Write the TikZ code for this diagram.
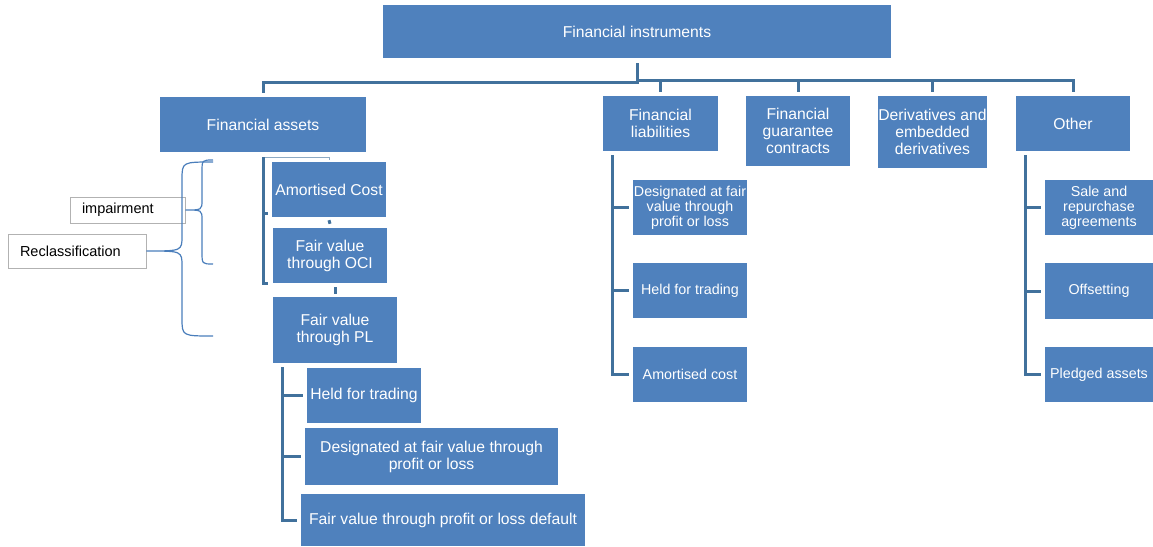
\documentclass[tikz,border=0pt]{standalone}
\usepackage{fontspec}
\setmainfont{Liberation Sans}
\usetikzlibrary{calc}
\definecolor{boxblue}{HTML}{4F81BD}
\definecolor{lineblue}{HTML}{41719C}
\definecolor{bracecol}{HTML}{4A7EBB}
\begin{document}
\begin{tikzpicture}[x=1pt,y=-1pt,
  box/.style={fill=boxblue, text=white, align=center, inner sep=0pt, font=\fontsize{15.7}{17}\selectfont},
  sbox/.style={box, font=\fontsize{14.3}{15.2}\selectfont},
  conn/.style={draw=lineblue, line width=3pt},
  thinconn/.style={draw=lineblue!60, line width=1pt},
  brace/.style={draw=bracecol, line width=1.2pt},
  lbl/.style={draw=gray!60, fill=white, line width=0.8pt, font=\fontsize{14.5}{16}\selectfont, align=left, inner xsep=12pt, inner ysep=0pt}]
\useasboundingbox (0,0) rectangle (1153,546);

% top level
\node[box, minimum width=508, minimum height=53] (top) at (637,31.5) {Financial instruments};
\node[box, minimum width=206, minimum height=55] (fa) at (263,124.5) {Financial assets};
\node[box, minimum width=115, minimum height=55] (fl) at (660.5,123.5) {Financial\\liabilities};
\node[box, minimum width=104, minimum height=70] (fg) at (798,131) {Financial\\guarantee\\contracts};
\node[box, minimum width=109, minimum height=72] (der) at (932.5,132) {Derivatives and\\embedded\\derivatives};
\node[box, minimum width=114, minimum height=55] (oth) at (1073,123.5) {Other};

% assets branch
\node[box, minimum width=114, minimum height=55] (ac) at (329,189.5) {Amortised Cost};
\node[box, minimum width=114, minimum height=55] (oci) at (330,255.5) {Fair value\\through OCI};
\node[box, minimum width=124, minimum height=66] (pl) at (335,330) {Fair value\\through PL};
\node[box, minimum width=114, minimum height=55] (hft) at (364,395.5) {Held for trading};
\node[box, minimum width=253, minimum height=57] (des) at (431.5,456.5) {Designated at fair value through\\profit or loss};
\node[box, minimum width=284, minimum height=52] (def) at (443,520) {Fair value through profit or loss default};

% liabilities branch
\node[sbox, minimum width=114, minimum height=55] (l1) at (690,207.5) {Designated at fair\\value through\\profit or loss};
\node[sbox, minimum width=114, minimum height=55] (l2) at (690,290.5) {Held for trading};
\node[sbox, minimum width=114, minimum height=55] (l3) at (690,374.5) {Amortised cost};

% other branch
\node[sbox, minimum width=108, minimum height=55] (o1) at (1099,207.5) {Sale and\\repurchase\\agreements};
\node[sbox, minimum width=108, minimum height=56] (o2) at (1099,291) {Offsetting};
\node[sbox, minimum width=108, minimum height=55] (o3) at (1099,374.5) {Pledged assets};

% labels
\node[lbl, text width=91, minimum height=26] (imp) at (127.5,210) {impairment};
\node[lbl, text width=114, minimum height=34] (rec) at (77,251) {Reclassification};

% top connectors
\coordinate (busL) at ([yshift=-24pt]top.south);
\coordinate (busR) at ([yshift=-22pt]top.south);
\draw[conn] ([yshift=-5pt]top.south) -- (busL) -| ([yshift=4pt]fa.north);
\draw[conn] (busR) -| ([yshift=4pt]oth.north);
\foreach \n in {fl,fg,der} \draw[conn] (busR -| \n.north) -- ([yshift=4pt]\n.north);

% liabilities spine
\coordinate (lsp) at ([xshift=10pt,yshift=-4pt]fl.south west);
\draw[conn] (lsp) |- ([xshift=-4pt]l3.west);
\foreach \n in {l1,l2} \draw[conn] (lsp |- \n.west) -- ([xshift=-4pt]\n.west);

% other spine
\coordinate (osp) at ([xshift=10pt,yshift=-4pt]oth.south west);
\draw[conn] (osp) |- ([xshift=-4pt]o3.west);
\foreach \n in {o1,o2} \draw[conn] (osp |- \n.west) -- ([xshift=-4pt]\n.west);

% PL spine
\coordinate (psp) at ([xshift=10pt,yshift=-4pt]pl.south west);
\draw[conn] (psp) |- ([xshift=-4pt]def.west);
\foreach \n in {hft,des} \draw[conn] (psp |- \n.west) -- ([xshift=-4pt]\n.west);

% assets bracket
\coordinate (asp) at ([yshift=-5pt]fa.south);
\draw[thinconn] (asp) -- (asp -| ac.north) -- ++(0,3);
\draw[conn] (asp) -- (asp |- oci.south) -- ++(5,0);
\draw[conn] ($(asp |- ac.south)+(0,-4)$) -- ++(5,0);
\draw[conn] ($(ac.south)+(0,3)$) -- ($(oci.north)+(0,-4)$);
\draw[conn] ($(oci.south -| pl.north)+(0,4)$) -- ($(pl.north)+(0,-3)$);

% braces
\draw[brace] (213,162) .. controls (182,162) .. (182,180) -- (182,236)
  .. controls (182,251) .. (rec.east) .. controls (182,251) .. (182,266)
  -- (182,318) .. controls (182,336) .. (213,336);
\draw[brace] (213,160) .. controls (202,160) .. (202,172) -- (202,200)
  .. controls (202,210) .. (imp.east) .. controls (202,210) .. (202,220)
  -- (202,252) .. controls (202,264) .. (213,264);
\end{tikzpicture}
\end{document}
